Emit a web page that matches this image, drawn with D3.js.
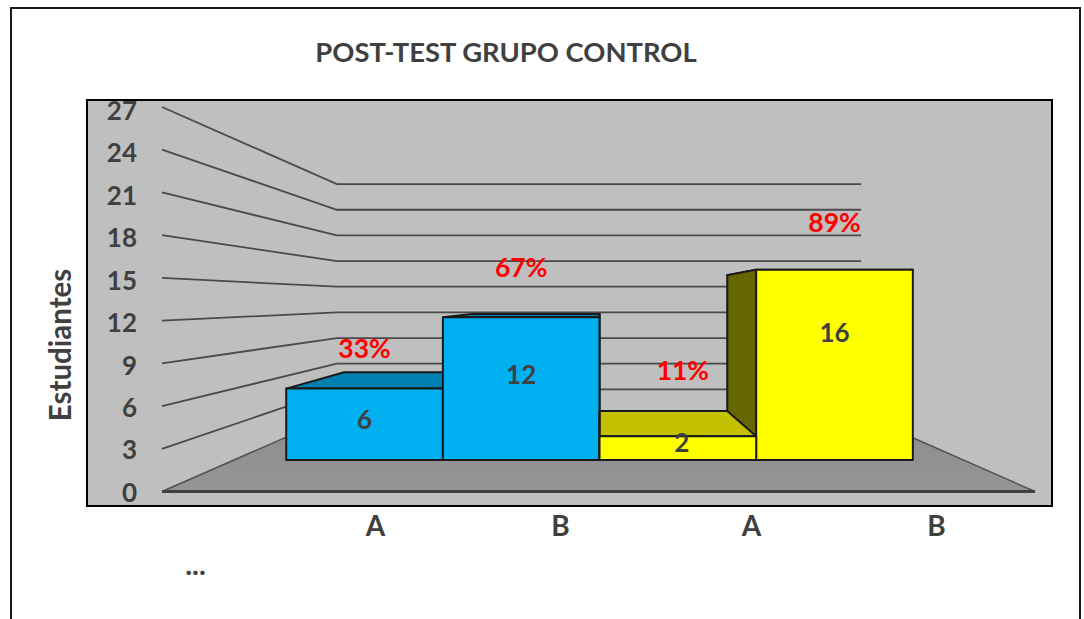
<!DOCTYPE html>
<html>
<head>
<meta charset="utf-8">
<script src="https://cdn.jsdelivr.net/npm/d3@7"></script>
<style>
  html, body { margin: 0; padding: 0; background: #fff; overflow: hidden; }
  svg { display: block; }
  text { font-family: Lato, "Open Sans", sans-serif; font-weight: 700; fill: #404040; }
</style>
</head>
<body>
<div id="chart"></div>
<script>
// data
var categories = ["A", "B", "A", "B"];
var values = [6, 12, 2, 16];
var percents = ["33%", "67%", "11%", "89%"];
var groups = ["control1", "control1", "control2", "control2"];
var yTicks = [0, 3, 6, 9, 12, 15, 18, 21, 24, 27];

var width = 1084, height = 619;

var svg = d3.select("#chart").append("svg")
    .attr("width", width)
    .attr("height", height);

// outer frame, cut off at the bottom of the picture
svg.append("path")
    .attr("d", "M11,619V8H1080V619")
    .attr("fill", "none")
    .attr("stroke", "#1a1a1a")
    .attr("stroke-width", 2);

// plot area
svg.append("rect")
    .attr("x", 87).attr("y", 100)
    .attr("width", 965).attr("height", 406)
    .attr("fill", "#bfbfbf")
    .attr("stroke", "#000")
    .attr("stroke-width", 2);

// scales on the front plane of the 3d box
var y = d3.scaleLinear().domain([0, 27]).range([491.5, 107]);
var x = d3.scaleBand().domain(d3.range(values.length)).range([224.5, 974.5]);

// everything shrinks toward this point as it goes back
var vpX = 599.7, vpY = 300;
function project(px, py, s) {
    return [vpX + (px - vpX) * s, vpY + (py - vpY) * s];
}
var wallDepth = 0.6005;   // back wall
var barFront = 0.8355;    // front of the bars
var barBack = 0.681;      // back of the bars
var line = d3.line();
var frontLeft = 162, frontRight = 1035;

// floor
var floorFill = svg.append("defs").append("linearGradient")
    .attr("id", "floorFill")
    .attr("x1", 0).attr("x2", 0).attr("y1", 0).attr("y2", 1);
floorFill.append("stop").attr("offset", "0%").attr("stop-color", "#8c8c8c");
floorFill.append("stop").attr("offset", "100%").attr("stop-color", "#959595");

svg.append("path")
    .attr("d", line([
        [frontLeft, y(0)], [frontRight, y(0)],
        project(frontRight, y(0), wallDepth),
        project(frontLeft, y(0), wallDepth)
    ]) + "Z")
    .attr("fill", "url(#floorFill)");
svg.append("path")
    .attr("d", line([project(frontRight, y(0), wallDepth), [frontRight, y(0)]]))
    .attr("stroke", "#505050").attr("stroke-width", 1.4).attr("fill", "none");
svg.append("path")
    .attr("d", line([project(frontLeft, y(0), wallDepth), [frontLeft, y(0)]]))
    .attr("stroke", "#505050").attr("stroke-width", 1.4).attr("fill", "none");
svg.append("line")
    .attr("x1", frontLeft).attr("x2", frontRight)
    .attr("y1", y(0)).attr("y2", y(0))
    .attr("stroke", "#404040").attr("stroke-width", 3);

// gridlines: left wall then back wall
svg.selectAll("path.grid")
    .data(yTicks.filter(function(d) { return d > 0; }))
    .enter()
    .append("path")
    .attr("class", "grid")
    .attr("d", function(d) {
        return line([
            [frontLeft, y(d)],
            project(frontLeft, y(d), wallDepth),
            project(frontRight, y(d), wallDepth)
        ]);
    })
    .attr("fill", "none")
    .attr("stroke", "#4a4a4a")
    .attr("stroke-width", 1.8);

// bars
var colors = d3.scaleOrdinal()
    .domain(["control1", "control2"])
    .range(["#00b0f0", "#ffff00"]);
var topColors = d3.scaleOrdinal()
    .domain(["control1", "control2"])
    .range(["#0080b0", "#c4c000"]);
var sideColors = d3.scaleOrdinal()
    .domain(["control1", "control2"])
    .range(["#006890", "#666600"]);

var bars = svg.selectAll("g.bar")
    .data(values)
    .enter()
    .append("g")
    .attr("class", "bar")
    .attr("stroke", "#1a1a1a")
    .attr("stroke-width", 2)
    .attr("stroke-linejoin", "round");

function corner(i, v, right, s) {
    var px = x(i) + (right ? x.bandwidth() : 0);
    return project(px, y(v), s);
}

// top
bars.append("path")
    .attr("d", function(d, i) {
        return line([
            corner(i, d, false, barFront), corner(i, d, true, barFront),
            corner(i, d, true, barBack), corner(i, d, false, barBack)
        ]) + "Z";
    })
    .attr("fill", function(d, i) { return topColors(groups[i]); });

// inner side: the face that looks toward the middle of the chart
bars.append("path")
    .attr("d", function(d, i) {
        var right = x(i) + x.bandwidth() / 2 < vpX;
        return line([
            corner(i, d, right, barFront), corner(i, d, right, barBack),
            corner(i, 0, right, barBack), corner(i, 0, right, barFront)
        ]) + "Z";
    })
    .attr("fill", function(d, i) { return sideColors(groups[i]); });

// front
bars.append("path")
    .attr("d", function(d, i) {
        return line([
            corner(i, d, false, barFront), corner(i, d, true, barFront),
            corner(i, 0, true, barFront), corner(i, 0, false, barFront)
        ]) + "Z";
    })
    .attr("fill", function(d, i) { return colors(groups[i]); });

// the short yellow bar sits in front of the side of the tall one
bars.filter(function(d, i) { return i == 2; }).raise();

// value labels and percents were moved by hand in the original
var valueShift = [-4.5, -14, -5, -32];
var pctShift = [[0, 40], [0, 50], [5, 66], [0, 47]];

function barCenter(i) {
    return vpX + (x(i) + x.bandwidth() / 2 - vpX) * barFront;
}
function barTop(v) {
    return project(0, y(v), barFront)[1];
}
function barMid(v) {
    return (barTop(v) + barTop(0)) / 2;
}

svg.selectAll("text.value")
    .data(values)
    .enter()
    .append("text")
    .attr("class", "value")
    .attr("x", function(d, i) { return barCenter(i) + (i == 2 ? 4 : 0); })
    .attr("y", function(d, i) { return barMid(d) + valueShift[i]; })
    .attr("dy", "0.36em")
    .attr("text-anchor", "middle")
    .style("font-size", "26px")
    .text(function(d) { return d; });

svg.selectAll("text.pct")
    .data(percents)
    .enter()
    .append("text")
    .attr("class", "pct")
    .attr("x", function(d, i) { return barCenter(i) + pctShift[i][0]; })
    .attr("y", function(d, i) { return barTop(values[i]) - pctShift[i][1]; })
    .attr("dy", "0.36em")
    .attr("text-anchor", "middle")
    .style("fill", "#ff0000")
    .style("font-size", "26.5px")
    .text(function(d) { return d; });

// axes, only the labels show
var yLabel = d3.scaleLinear().domain([0, 27]).range([492, 110]);
var yAxis = svg.append("g")
    .attr("transform", "translate(137,0)")
    .call(d3.axisLeft(yLabel).tickValues(yTicks).tickSize(0).tickPadding(0));
yAxis.select(".domain").remove();
yAxis.attr("font-family", null);
yAxis.selectAll("text")
    .style("font-size", "26px")
    .attr("dy", "0.36em");

var xLabel = d3.scaleOrdinal()
    .domain(d3.range(categories.length))
    .range([375, 560, 751, 936]);
var xAxis = svg.append("g")
    .attr("transform", "translate(0,526)")
    .call(d3.axisBottom(xLabel).tickSize(0).tickPadding(0).tickFormat(function(i) { return categories[i]; }));
xAxis.select(".domain").remove();
xAxis.attr("font-family", null);
xAxis.selectAll("text")
    .style("font-size", "28px")
    .attr("dy", "0.36em");

// title and axis title
svg.append("text")
    .attr("x", 506).attr("y", 52)
    .attr("dy", "0.36em")
    .attr("text-anchor", "middle")
    .style("font-size", "27.4px")
    .text("POST-TEST GRUPO CONTROL");

svg.append("text")
    .attr("transform", "translate(60,345) rotate(-90)")
    .attr("dy", "0.36em")
    .attr("text-anchor", "middle")
    .style("font-size", "29.5px")
    .text("Estudiantes");

svg.append("text")
    .attr("x", 195.5).attr("y", 565)
    .attr("dy", "0.36em")
    .attr("text-anchor", "middle")
    .style("font-size", "29px")
    .text("...");
</script>
</body>
</html>
